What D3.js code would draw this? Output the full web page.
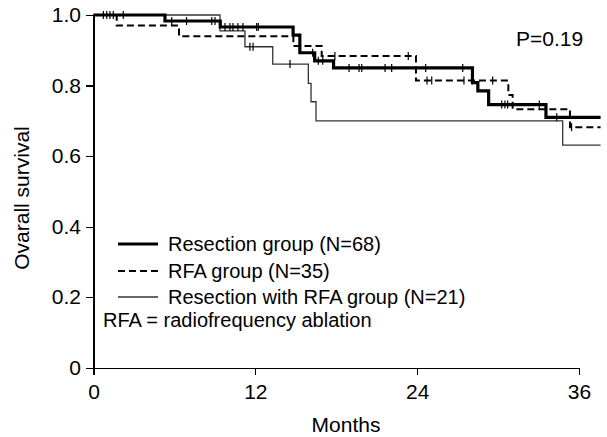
<!DOCTYPE html>
<html>
<head>
<meta charset="utf-8">
<script src="https://cdn.jsdelivr.net/npm/d3@7"></script>
<style>
  html, body { margin: 0; padding: 0; background: #fff; }
  text { font-family: "Liberation Sans", Arial, sans-serif; fill: #000; }
</style>
</head>
<body>
<svg id="chart" width="607" height="437"></svg>
<script>
// ---- Data ----
const xTicks = [0, 12, 24, 36];
const yTicks = [0, 0.2, 0.4, 0.6, 0.8, 1.0];
const yTickLabels = ["0", "0.2", "0.4", "0.6", "0.8", "1.0"];
const followUpEnd = 37.6;

// Kaplan–Meier steps: [month, survival after event]
const resectionSteps = [[5.3, 0.983], [9.4, 0.966], [14.8, 0.943], [15.3, 0.893], [16.4, 0.870], [17.8, 0.850], [28.1, 0.808], [28.5, 0.785], [29.3, 0.746], [33.55, 0.710]];
const resectionCensor = [0.73, 0.98, 1.22, 1.47, 2.21, 5.8, 6.9, 8.77, 9.01, 9.75, 10.12, 10.34, 10.71, 11.08, 12.1, 12.22, 16.25, 16.67, 17.0, 18.95, 19.69, 19.89, 21.62, 22.11, 24.63, 27.38, 30.27, 30.51, 30.71, 33.06, 34.35];

const rfaSteps = [[1.72, 0.970], [6.34, 0.940], [14.82, 0.912], [16.92, 0.884], [23.91, 0.814], [30.76, 0.773], [31.08, 0.733], [35.33, 0.682]];
const rfaCensor = [17.9, 23.34, 24.73, 25.08, 27.47, 28.09, 29.6, 35.45];

const comboSteps = [[9.38, 0.955], [11.23, 0.910], [13.29, 0.861], [15.93, 0.806], [16.13, 0.754], [16.5, 0.700], [34.79, 0.631]];
const comboCensor = [11.6, 11.83, 14.57];

const legendLabels = ["Resection group (N=68)", "RFA group (N=35)", "Resection with RFA group (N=21)"];
const legendNote = "RFA = radiofrequency ablation";
const pText = "P=0.19";
const xTitle = "Months";
const yTitle = "Ovarall survival";

// ---- Drawing ----
const svg = d3.select("#chart");
const x = d3.scaleLinear().domain([0, 36]).range([93.5, 579]);
const y = d3.scaleLinear().domain([0, 1]).range([367.7, 15]);

const xAxis = d3.axisBottom(x).tickValues(xTicks).tickSize(7).tickSizeOuter(0).tickPadding(9).tickFormat(d3.format("d"));
const yAxis = d3.axisLeft(y).tickValues(yTicks).tickSize(7.5).tickSizeOuter(0).tickPadding(5)
  .tickFormat((d, i) => yTickLabels[i]);

const gx = svg.append("g").attr("transform", `translate(0,${y(0)})`).call(xAxis);
const gy = svg.append("g").attr("transform", `translate(${x(0)},0)`).call(yAxis);
[gx, gy].forEach(g => {
  g.selectAll("path, line").attr("stroke", "#000").attr("stroke-width", 1.2).attr("shape-rendering", "crispEdges");
  g.selectAll("text").attr("font-size", 21).attr("font-family", "Liberation Sans, Arial, sans-serif").attr("fill", "#000");
});

svg.append("text").attr("x", 346).attr("y", 432).attr("text-anchor", "middle").attr("font-size", 21).text(xTitle);
svg.append("text").attr("transform", `translate(29,198) rotate(-90)`).attr("text-anchor", "middle").attr("font-size", 21).text(yTitle);
svg.append("text").attr("x", 516).attr("y", 46).attr("font-size", 21).text(pText);

const line = d3.line().x(d => x(d[0])).y(d => y(d[1])).curve(d3.curveStepAfter);
function fullPoints(steps) {
  const pts = [[0, 1]].concat(steps);
  pts.push([followUpEnd, steps[steps.length - 1][1]]);
  return pts;
}
function survAt(steps, t) {
  let s = 1;
  for (const [tt, ss] of steps) { if (tt <= t) s = ss; }
  return s;
}

const groups = [
  { steps: comboSteps, censor: comboCensor, width: 1.3, dash: null, color: "#333" },
  { steps: rfaSteps, censor: rfaCensor, width: 2, dash: "7,4", color: "#000" },
  { steps: resectionSteps, censor: resectionCensor, width: 3.2, dash: null, color: "#000" }
];

groups.forEach(gp => {
  svg.append("path").datum(fullPoints(gp.steps)).attr("d", line)
    .attr("fill", "none").attr("stroke", gp.color).attr("stroke-width", gp.width)
    .attr("stroke-dasharray", gp.dash);
  svg.append("g").selectAll("line").data(gp.censor).join("line")
    .attr("x1", d => x(d)).attr("x2", d => x(d))
    .attr("y1", d => y(survAt(gp.steps, d)) - 4).attr("y2", d => y(survAt(gp.steps, d)) + 4)
    .attr("stroke", "#000").attr("stroke-width", 1.2);
});

// Legend
const legendStyles = [
  { width: 3.2, dash: null, color: "#000" },
  { width: 2, dash: "7,4", color: "#000" },
  { width: 1.3, dash: null, color: "#333" }
];
const legendY = [244, 271, 297];
legendLabels.forEach((lab, i) => {
  svg.append("line").attr("x1", 118).attr("x2", 158).attr("y1", legendY[i]).attr("y2", legendY[i])
    .attr("stroke", legendStyles[i].color).attr("stroke-width", legendStyles[i].width)
    .attr("stroke-dasharray", legendStyles[i].dash);
  svg.append("text").attr("x", 168).attr("y", legendY[i] + 7.2).attr("font-size", 20).text(lab);
});
svg.append("text").attr("x", 103).attr("y", 327).attr("font-size", 20).text(legendNote);
</script>
</body>
</html>
